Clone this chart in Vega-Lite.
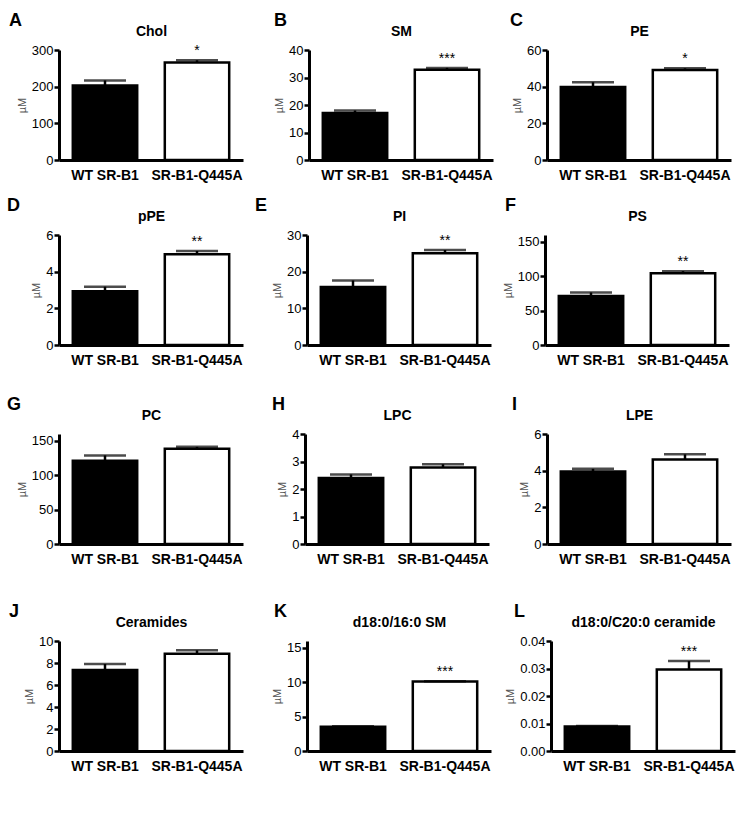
{
  "$schema": "https://vega.github.io/schema/vega-lite/v6.json",
  "background": "white",
  "padding": {"left": 7, "top": 12, "right": 5, "bottom": 5},
  "data": {"values": [
    {"panel": "A", "group": "WT SR-B1", "value": 203, "hi": 217, "sig": ""},
    {"panel": "A", "group": "SR-B1-Q445A", "value": 266, "hi": 272, "sig": "*"},
    {"panel": "B", "group": "WT SR-B1", "value": 17.1, "hi": 18.0, "sig": ""},
    {"panel": "B", "group": "SR-B1-Q445A", "value": 32.8, "hi": 33.5, "sig": "***"},
    {"panel": "C", "group": "WT SR-B1", "value": 39.8, "hi": 42.4, "sig": ""},
    {"panel": "C", "group": "SR-B1-Q445A", "value": 49.1, "hi": 50.0, "sig": "*"},
    {"panel": "D", "group": "WT SR-B1", "value": 2.93, "hi": 3.18, "sig": ""},
    {"panel": "D", "group": "SR-B1-Q445A", "value": 4.95, "hi": 5.13, "sig": "**"},
    {"panel": "E", "group": "WT SR-B1", "value": 15.8, "hi": 17.6, "sig": ""},
    {"panel": "E", "group": "SR-B1-Q445A", "value": 25.0, "hi": 25.9, "sig": "**"},
    {"panel": "F", "group": "WT SR-B1", "value": 71.3, "hi": 76.4, "sig": ""},
    {"panel": "F", "group": "SR-B1-Q445A", "value": 104.2, "hi": 107.4, "sig": "**"},
    {"panel": "G", "group": "WT SR-B1", "value": 121, "hi": 128.9, "sig": ""},
    {"panel": "G", "group": "SR-B1-Q445A", "value": 138.5, "hi": 141.3, "sig": ""},
    {"panel": "H", "group": "WT SR-B1", "value": 2.40, "hi": 2.53, "sig": ""},
    {"panel": "H", "group": "SR-B1-Q445A", "value": 2.78, "hi": 2.90, "sig": ""},
    {"panel": "I", "group": "WT SR-B1", "value": 3.96, "hi": 4.10, "sig": ""},
    {"panel": "I", "group": "SR-B1-Q445A", "value": 4.61, "hi": 4.89, "sig": ""},
    {"panel": "J", "group": "WT SR-B1", "value": 7.36, "hi": 7.91, "sig": ""},
    {"panel": "J", "group": "SR-B1-Q445A", "value": 8.85, "hi": 9.15, "sig": ""},
    {"panel": "K", "group": "WT SR-B1", "value": 3.54, "hi": 3.60, "sig": ""},
    {"panel": "K", "group": "SR-B1-Q445A", "value": 10.1, "hi": 10.15, "sig": "***"},
    {"panel": "L", "group": "WT SR-B1", "value": 0.0089, "hi": 0.0091, "sig": ""},
    {"panel": "L", "group": "SR-B1-Q445A", "value": 0.0296, "hi": 0.0327, "sig": "***"}
  ]},
  "spacing": 15,
  "vconcat": [
    {"bounds": "flush", "spacing": 66, "hconcat": [
      {"width": 184, "height": 110, "title": {"text": "A", "dx": -50},
       "transform": [{"filter": "datum.panel === 'A'"}],
       "layer": [
         {"encoding": {
            "x": {"field": "group", "type": "nominal", "sort": ["WT SR-B1", "SR-B1-Q445A"], "title": null, "scale": {"paddingInner": 0.3, "paddingOuter": 0.15}},
            "y": {"field": "value", "type": "quantitative", "title": "µM", "scale": {"domain": [0, 300]}, "axis": {"values": [0, 100, 200, 300], "tickCount": 20, "format": "d"}}},
          "layer": [
            {"mark": {"type": "bar", "stroke": "black", "strokeWidth": 2.5}, "encoding": {"fill": {"field": "group", "scale": {"domain": ["WT SR-B1", "SR-B1-Q445A"], "range": ["black", "white"]}, "legend": null}}},
            {"mark": {"type": "rule", "strokeWidth": 2.5, "color": "black"}, "encoding": {"y2": {"field": "hi"}}},
            {"mark": {"type": "tick", "thickness": 2.5, "size": 42, "color": "black"}, "encoding": {"y": {"field": "hi", "type": "quantitative", "title": "µM"}}}
          ]},
         {"mark": {"type": "text", "dy": -5, "baseline": "alphabetic", "fontSize": 14}, "encoding": {
            "x": {"field": "group", "type": "nominal", "sort": ["WT SR-B1", "SR-B1-Q445A"], "title": "Chol", "scale": {"paddingInner": 0.3, "paddingOuter": 0.15}, "axis": {"orient": "top"}},
            "y": {"field": "hi", "type": "quantitative", "title": "µM"},
            "text": {"field": "sig"}}}
       ],
       "resolve": {"axis": {"x": "independent"}}},
      {"bounds": "flush", "spacing": 54, "hconcat": [
      {"width": 184, "height": 110, "title": {"text": "B", "dx": -35},
       "transform": [{"filter": "datum.panel === 'B'"}],
       "layer": [
         {"encoding": {
            "x": {"field": "group", "type": "nominal", "sort": ["WT SR-B1", "SR-B1-Q445A"], "title": null, "scale": {"paddingInner": 0.3, "paddingOuter": 0.15}},
            "y": {"field": "value", "type": "quantitative", "title": "µM", "scale": {"domain": [0, 40]}, "axis": {"values": [0, 10, 20, 30, 40], "tickCount": 20, "format": "d"}}},
          "layer": [
            {"mark": {"type": "bar", "stroke": "black", "strokeWidth": 2.5}, "encoding": {"fill": {"field": "group", "scale": {"domain": ["WT SR-B1", "SR-B1-Q445A"], "range": ["black", "white"]}, "legend": null}}},
            {"mark": {"type": "rule", "strokeWidth": 2.5, "color": "black"}, "encoding": {"y2": {"field": "hi"}}},
            {"mark": {"type": "tick", "thickness": 2.5, "size": 42, "color": "black"}, "encoding": {"y": {"field": "hi", "type": "quantitative", "title": "µM"}}}
          ]},
         {"mark": {"type": "text", "dy": -5, "baseline": "alphabetic", "fontSize": 14}, "encoding": {
            "x": {"field": "group", "type": "nominal", "sort": ["WT SR-B1", "SR-B1-Q445A"], "title": "SM", "scale": {"paddingInner": 0.3, "paddingOuter": 0.15}, "axis": {"orient": "top"}},
            "y": {"field": "hi", "type": "quantitative", "title": "µM"},
            "text": {"field": "sig"}}}
       ],
       "resolve": {"axis": {"x": "independent"}}},
      {"width": 184, "height": 110, "title": {"text": "C", "dx": -37},
       "transform": [{"filter": "datum.panel === 'C'"}],
       "layer": [
         {"encoding": {
            "x": {"field": "group", "type": "nominal", "sort": ["WT SR-B1", "SR-B1-Q445A"], "title": null, "scale": {"paddingInner": 0.3, "paddingOuter": 0.15}},
            "y": {"field": "value", "type": "quantitative", "title": "µM", "scale": {"domain": [0, 60]}, "axis": {"values": [0, 20, 40, 60], "tickCount": 20, "format": "d"}}},
          "layer": [
            {"mark": {"type": "bar", "stroke": "black", "strokeWidth": 2.5}, "encoding": {"fill": {"field": "group", "scale": {"domain": ["WT SR-B1", "SR-B1-Q445A"], "range": ["black", "white"]}, "legend": null}}},
            {"mark": {"type": "rule", "strokeWidth": 2.5, "color": "black"}, "encoding": {"y2": {"field": "hi"}}},
            {"mark": {"type": "tick", "thickness": 2.5, "size": 42, "color": "black"}, "encoding": {"y": {"field": "hi", "type": "quantitative", "title": "µM"}}}
          ]},
         {"mark": {"type": "text", "dy": -5, "baseline": "alphabetic", "fontSize": 14}, "encoding": {
            "x": {"field": "group", "type": "nominal", "sort": ["WT SR-B1", "SR-B1-Q445A"], "title": "PE", "scale": {"paddingInner": 0.3, "paddingOuter": 0.15}, "axis": {"orient": "top"}},
            "y": {"field": "hi", "type": "quantitative", "title": "µM"},
            "text": {"field": "sig"}}}
       ],
       "resolve": {"axis": {"x": "independent"}}}
      ]}
    ]},
    {"spacing": 29, "vconcat": [
    {"bounds": "flush", "spacing": 64, "hconcat": [
      {"width": 184, "height": 110, "title": {"text": "D", "dx": -52},
       "transform": [{"filter": "datum.panel === 'D'"}],
       "layer": [
         {"encoding": {
            "x": {"field": "group", "type": "nominal", "sort": ["WT SR-B1", "SR-B1-Q445A"], "title": null, "scale": {"paddingInner": 0.3, "paddingOuter": 0.15}},
            "y": {"field": "value", "type": "quantitative", "title": "µM", "scale": {"domain": [0, 6]}, "axis": {"values": [0, 2, 4, 6], "tickCount": 20, "format": "d"}}},
          "layer": [
            {"mark": {"type": "bar", "stroke": "black", "strokeWidth": 2.5}, "encoding": {"fill": {"field": "group", "scale": {"domain": ["WT SR-B1", "SR-B1-Q445A"], "range": ["black", "white"]}, "legend": null}}},
            {"mark": {"type": "rule", "strokeWidth": 2.5, "color": "black"}, "encoding": {"y2": {"field": "hi"}}},
            {"mark": {"type": "tick", "thickness": 2.5, "size": 42, "color": "black"}, "encoding": {"y": {"field": "hi", "type": "quantitative", "title": "µM"}}}
          ]},
         {"mark": {"type": "text", "dy": -5, "baseline": "alphabetic", "fontSize": 14}, "encoding": {
            "x": {"field": "group", "type": "nominal", "sort": ["WT SR-B1", "SR-B1-Q445A"], "title": "pPE", "scale": {"paddingInner": 0.3, "paddingOuter": 0.15}, "axis": {"orient": "top"}},
            "y": {"field": "hi", "type": "quantitative", "title": "µM"},
            "text": {"field": "sig"}}}
       ],
       "resolve": {"axis": {"x": "independent"}}},
      {"bounds": "flush", "spacing": 54, "hconcat": [
      {"width": 184, "height": 110, "title": {"text": "E", "dx": -52},
       "transform": [{"filter": "datum.panel === 'E'"}],
       "layer": [
         {"encoding": {
            "x": {"field": "group", "type": "nominal", "sort": ["WT SR-B1", "SR-B1-Q445A"], "title": null, "scale": {"paddingInner": 0.3, "paddingOuter": 0.15}},
            "y": {"field": "value", "type": "quantitative", "title": "µM", "scale": {"domain": [0, 30]}, "axis": {"values": [0, 10, 20, 30], "tickCount": 20, "format": "d"}}},
          "layer": [
            {"mark": {"type": "bar", "stroke": "black", "strokeWidth": 2.5}, "encoding": {"fill": {"field": "group", "scale": {"domain": ["WT SR-B1", "SR-B1-Q445A"], "range": ["black", "white"]}, "legend": null}}},
            {"mark": {"type": "rule", "strokeWidth": 2.5, "color": "black"}, "encoding": {"y2": {"field": "hi"}}},
            {"mark": {"type": "tick", "thickness": 2.5, "size": 42, "color": "black"}, "encoding": {"y": {"field": "hi", "type": "quantitative", "title": "µM"}}}
          ]},
         {"mark": {"type": "text", "dy": -5, "baseline": "alphabetic", "fontSize": 14}, "encoding": {
            "x": {"field": "group", "type": "nominal", "sort": ["WT SR-B1", "SR-B1-Q445A"], "title": "PI", "scale": {"paddingInner": 0.3, "paddingOuter": 0.15}, "axis": {"orient": "top"}},
            "y": {"field": "hi", "type": "quantitative", "title": "µM"},
            "text": {"field": "sig"}}}
       ],
       "resolve": {"axis": {"x": "independent"}}},
      {"width": 184, "height": 110, "title": {"text": "F", "dx": -40},
       "transform": [{"filter": "datum.panel === 'F'"}],
       "layer": [
         {"encoding": {
            "x": {"field": "group", "type": "nominal", "sort": ["WT SR-B1", "SR-B1-Q445A"], "title": null, "scale": {"paddingInner": 0.3, "paddingOuter": 0.15}},
            "y": {"field": "value", "type": "quantitative", "title": "µM", "scale": {"domain": [0, 150]}, "axis": {"values": [0, 50, 100, 150], "tickCount": 20, "format": "d"}}},
          "layer": [
            {"mark": {"type": "bar", "stroke": "black", "strokeWidth": 2.5}, "encoding": {"fill": {"field": "group", "scale": {"domain": ["WT SR-B1", "SR-B1-Q445A"], "range": ["black", "white"]}, "legend": null}}},
            {"mark": {"type": "rule", "strokeWidth": 2.5, "color": "black"}, "encoding": {"y2": {"field": "hi"}}},
            {"mark": {"type": "tick", "thickness": 2.5, "size": 42, "color": "black"}, "encoding": {"y": {"field": "hi", "type": "quantitative", "title": "µM"}}}
          ]},
         {"mark": {"type": "text", "dy": -5, "baseline": "alphabetic", "fontSize": 14}, "encoding": {
            "x": {"field": "group", "type": "nominal", "sort": ["WT SR-B1", "SR-B1-Q445A"], "title": "PS", "scale": {"paddingInner": 0.3, "paddingOuter": 0.15}, "axis": {"orient": "top"}},
            "y": {"field": "hi", "type": "quantitative", "title": "µM"},
            "text": {"field": "sig"}}}
       ],
       "resolve": {"axis": {"x": "independent"}}}
      ]}
    ]},
    {"spacing": 37, "vconcat": [
    {"bounds": "flush", "spacing": 62, "hconcat": [
      {"width": 184, "height": 110, "title": {"text": "G", "dx": -52},
       "transform": [{"filter": "datum.panel === 'G'"}],
       "layer": [
         {"encoding": {
            "x": {"field": "group", "type": "nominal", "sort": ["WT SR-B1", "SR-B1-Q445A"], "title": null, "scale": {"paddingInner": 0.3, "paddingOuter": 0.15}},
            "y": {"field": "value", "type": "quantitative", "title": "µM", "scale": {"domain": [0, 150]}, "axis": {"values": [0, 50, 100, 150], "tickCount": 20, "format": "d"}}},
          "layer": [
            {"mark": {"type": "bar", "stroke": "black", "strokeWidth": 2.5}, "encoding": {"fill": {"field": "group", "scale": {"domain": ["WT SR-B1", "SR-B1-Q445A"], "range": ["black", "white"]}, "legend": null}}},
            {"mark": {"type": "rule", "strokeWidth": 2.5, "color": "black"}, "encoding": {"y2": {"field": "hi"}}},
            {"mark": {"type": "tick", "thickness": 2.5, "size": 42, "color": "black"}, "encoding": {"y": {"field": "hi", "type": "quantitative", "title": "µM"}}}
          ]},
         {"mark": {"type": "text", "dy": -5, "baseline": "alphabetic", "fontSize": 14}, "encoding": {
            "x": {"field": "group", "type": "nominal", "sort": ["WT SR-B1", "SR-B1-Q445A"], "title": "PC", "scale": {"paddingInner": 0.3, "paddingOuter": 0.15}, "axis": {"orient": "top"}},
            "y": {"field": "hi", "type": "quantitative", "title": "µM"},
            "text": {"field": "sig"}}}
       ],
       "resolve": {"axis": {"x": "independent"}}},
      {"bounds": "flush", "spacing": 58, "hconcat": [
      {"width": 184, "height": 110, "title": {"text": "H", "dx": -33},
       "transform": [{"filter": "datum.panel === 'H'"}],
       "layer": [
         {"encoding": {
            "x": {"field": "group", "type": "nominal", "sort": ["WT SR-B1", "SR-B1-Q445A"], "title": null, "scale": {"paddingInner": 0.3, "paddingOuter": 0.15}},
            "y": {"field": "value", "type": "quantitative", "title": "µM", "scale": {"domain": [0, 4]}, "axis": {"values": [0, 1, 2, 3, 4], "tickCount": 20, "format": "d"}}},
          "layer": [
            {"mark": {"type": "bar", "stroke": "black", "strokeWidth": 2.5}, "encoding": {"fill": {"field": "group", "scale": {"domain": ["WT SR-B1", "SR-B1-Q445A"], "range": ["black", "white"]}, "legend": null}}},
            {"mark": {"type": "rule", "strokeWidth": 2.5, "color": "black"}, "encoding": {"y2": {"field": "hi"}}},
            {"mark": {"type": "tick", "thickness": 2.5, "size": 42, "color": "black"}, "encoding": {"y": {"field": "hi", "type": "quantitative", "title": "µM"}}}
          ]},
         {"mark": {"type": "text", "dy": -5, "baseline": "alphabetic", "fontSize": 14}, "encoding": {
            "x": {"field": "group", "type": "nominal", "sort": ["WT SR-B1", "SR-B1-Q445A"], "title": "LPC", "scale": {"paddingInner": 0.3, "paddingOuter": 0.15}, "axis": {"orient": "top"}},
            "y": {"field": "hi", "type": "quantitative", "title": "µM"},
            "text": {"field": "sig"}}}
       ],
       "resolve": {"axis": {"x": "independent"}}},
      {"width": 184, "height": 110, "title": {"text": "I", "dx": -35},
       "transform": [{"filter": "datum.panel === 'I'"}],
       "layer": [
         {"encoding": {
            "x": {"field": "group", "type": "nominal", "sort": ["WT SR-B1", "SR-B1-Q445A"], "title": null, "scale": {"paddingInner": 0.3, "paddingOuter": 0.15}},
            "y": {"field": "value", "type": "quantitative", "title": "µM", "scale": {"domain": [0, 6]}, "axis": {"values": [0, 2, 4, 6], "tickCount": 20, "format": "d"}}},
          "layer": [
            {"mark": {"type": "bar", "stroke": "black", "strokeWidth": 2.5}, "encoding": {"fill": {"field": "group", "scale": {"domain": ["WT SR-B1", "SR-B1-Q445A"], "range": ["black", "white"]}, "legend": null}}},
            {"mark": {"type": "rule", "strokeWidth": 2.5, "color": "black"}, "encoding": {"y2": {"field": "hi"}}},
            {"mark": {"type": "tick", "thickness": 2.5, "size": 42, "color": "black"}, "encoding": {"y": {"field": "hi", "type": "quantitative", "title": "µM"}}}
          ]},
         {"mark": {"type": "text", "dy": -5, "baseline": "alphabetic", "fontSize": 14}, "encoding": {
            "x": {"field": "group", "type": "nominal", "sort": ["WT SR-B1", "SR-B1-Q445A"], "title": "LPE", "scale": {"paddingInner": 0.3, "paddingOuter": 0.15}, "axis": {"orient": "top"}},
            "y": {"field": "hi", "type": "quantitative", "title": "µM"},
            "text": {"field": "sig"}}}
       ],
       "resolve": {"axis": {"x": "independent"}}}
      ]}
    ]},
    {"bounds": "flush", "spacing": 64, "hconcat": [
      {"width": 184, "height": 110, "title": {"text": "J", "dx": -50},
       "transform": [{"filter": "datum.panel === 'J'"}],
       "layer": [
         {"encoding": {
            "x": {"field": "group", "type": "nominal", "sort": ["WT SR-B1", "SR-B1-Q445A"], "title": null, "scale": {"paddingInner": 0.3, "paddingOuter": 0.15}},
            "y": {"field": "value", "type": "quantitative", "title": "µM", "scale": {"domain": [0, 10]}, "axis": {"values": [0, 2, 4, 6, 8, 10], "tickCount": 20, "format": "d"}}},
          "layer": [
            {"mark": {"type": "bar", "stroke": "black", "strokeWidth": 2.5}, "encoding": {"fill": {"field": "group", "scale": {"domain": ["WT SR-B1", "SR-B1-Q445A"], "range": ["black", "white"]}, "legend": null}}},
            {"mark": {"type": "rule", "strokeWidth": 2.5, "color": "black"}, "encoding": {"y2": {"field": "hi"}}},
            {"mark": {"type": "tick", "thickness": 2.5, "size": 42, "color": "black"}, "encoding": {"y": {"field": "hi", "type": "quantitative", "title": "µM"}}}
          ]},
         {"mark": {"type": "text", "dy": -5, "baseline": "alphabetic", "fontSize": 14}, "encoding": {
            "x": {"field": "group", "type": "nominal", "sort": ["WT SR-B1", "SR-B1-Q445A"], "title": "Ceramides", "scale": {"paddingInner": 0.3, "paddingOuter": 0.15}, "axis": {"orient": "top"}},
            "y": {"field": "hi", "type": "quantitative", "title": "µM"},
            "text": {"field": "sig"}}}
       ],
       "resolve": {"axis": {"x": "independent"}}},
      {"bounds": "flush", "spacing": 60, "hconcat": [
      {"width": 184, "height": 110, "title": {"text": "K", "dx": -33},
       "transform": [{"filter": "datum.panel === 'K'"}],
       "layer": [
         {"encoding": {
            "x": {"field": "group", "type": "nominal", "sort": ["WT SR-B1", "SR-B1-Q445A"], "title": null, "scale": {"paddingInner": 0.3, "paddingOuter": 0.15}},
            "y": {"field": "value", "type": "quantitative", "title": "µM", "scale": {"domain": [0, 15]}, "axis": {"values": [0, 5, 10, 15], "tickCount": 20, "format": "d"}}},
          "layer": [
            {"mark": {"type": "bar", "stroke": "black", "strokeWidth": 2.5}, "encoding": {"fill": {"field": "group", "scale": {"domain": ["WT SR-B1", "SR-B1-Q445A"], "range": ["black", "white"]}, "legend": null}}},
            {"mark": {"type": "rule", "strokeWidth": 2.5, "color": "black"}, "encoding": {"y2": {"field": "hi"}}},
            {"mark": {"type": "tick", "thickness": 2.5, "size": 42, "color": "black"}, "encoding": {"y": {"field": "hi", "type": "quantitative", "title": "µM"}}}
          ]},
         {"mark": {"type": "text", "dy": -5, "baseline": "alphabetic", "fontSize": 14}, "encoding": {
            "x": {"field": "group", "type": "nominal", "sort": ["WT SR-B1", "SR-B1-Q445A"], "title": "d18:0/16:0 SM", "scale": {"paddingInner": 0.3, "paddingOuter": 0.15}, "axis": {"orient": "top"}},
            "y": {"field": "hi", "type": "quantitative", "title": "µM"},
            "text": {"field": "sig"}}}
       ],
       "resolve": {"axis": {"x": "independent"}}},
      {"width": 184, "height": 110, "title": {"text": "L", "dx": -37},
       "transform": [{"filter": "datum.panel === 'L'"}],
       "layer": [
         {"encoding": {
            "x": {"field": "group", "type": "nominal", "sort": ["WT SR-B1", "SR-B1-Q445A"], "title": null, "scale": {"paddingInner": 0.3, "paddingOuter": 0.15}},
            "y": {"field": "value", "type": "quantitative", "title": "µM", "scale": {"domain": [0, 0.04]}, "axis": {"values": [0, 0.01, 0.02, 0.03, 0.04], "format": ".2f", "tickCount": 20}}},
          "layer": [
            {"mark": {"type": "bar", "stroke": "black", "strokeWidth": 2.5}, "encoding": {"fill": {"field": "group", "scale": {"domain": ["WT SR-B1", "SR-B1-Q445A"], "range": ["black", "white"]}, "legend": null}}},
            {"mark": {"type": "rule", "strokeWidth": 2.5, "color": "black"}, "encoding": {"y2": {"field": "hi"}}},
            {"mark": {"type": "tick", "thickness": 2.5, "size": 42, "color": "black"}, "encoding": {"y": {"field": "hi", "type": "quantitative", "title": "µM"}}}
          ]},
         {"mark": {"type": "text", "dy": -5, "baseline": "alphabetic", "fontSize": 14}, "encoding": {
            "x": {"field": "group", "type": "nominal", "sort": ["WT SR-B1", "SR-B1-Q445A"], "title": "d18:0/C20:0 ceramide", "scale": {"paddingInner": 0.3, "paddingOuter": 0.15}, "axis": {"orient": "top"}},
            "y": {"field": "hi", "type": "quantitative", "title": "µM"},
            "text": {"field": "sig"}}}
       ],
       "resolve": {"axis": {"x": "independent"}}}
      ]}
    ]}
    ]}
    ]}
  ],
  "config": {
    "font": "Liberation Sans",
    "view": {"stroke": null},
    "axis": {"grid": false, "domainColor": "black", "domainWidth": 3, "tickColor": "black", "tickWidth": 2.5, "labelColor": "black", "labelFont": "Liberation Sans", "titleFont": "Liberation Sans", "titleColor": "black"},
    "axisLeft": {"tickSize": 5, "labelFontSize": 13, "labelPadding": 1, "titleFontSize": 11, "titleFontWeight": "normal", "titleColor": "#555555", "titlePadding": 4},
    "axisBottom": {"ticks": false, "labelAngle": 0, "labelFontSize": 14, "labelFontWeight": "bold", "labelPadding": 8},
    "axisTop": {"labels": false, "ticks": false, "domain": false, "titleFontSize": 14, "titleFontWeight": "bold", "titlePadding": 12},
    "title": {"anchor": "start", "frame": "group", "fontSize": 18, "fontWeight": "bold", "offset": -6, "font": "Liberation Sans", "color": "black"}
  }
}
